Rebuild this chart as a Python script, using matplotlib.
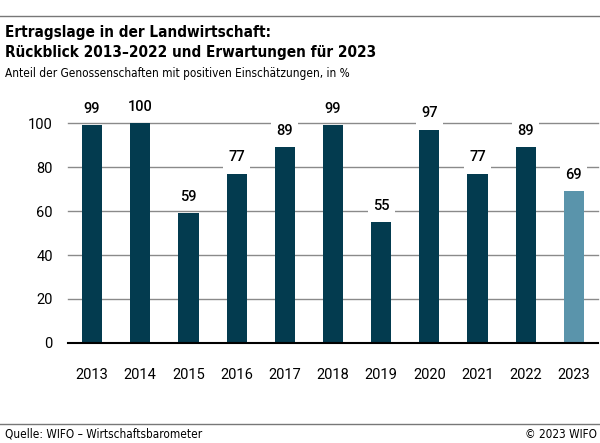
import matplotlib.pyplot as plt
from matplotlib.lines import Line2D

years = ['2013', '2014', '2015', '2016', '2017', '2018', '2019', '2020', '2021', '2022', '2023']
values = [99, 100, 59, 77, 89, 99, 55, 97, 77, 89, 69]
yticks = [0, 20, 40, 60, 80, 100]

dark = '#033b4f'
light = '#5a94ab'
colors = [dark] * 10 + [light]

cond = ['DejaVu Sans']
num = ['Roboto', 'DejaVu Sans']

W, H = 600, 443
fig = plt.figure(figsize=(W / 100, H / 100), dpi=100)

# axes in pixel coords of the reference
ax = fig.add_axes([68 / W, 1 - 343 / H, 530 / W, 220 / H])
x = list(range(len(years)))
ax.bar(x, values, width=0.42, color=colors, zorder=2)

for v in yticks[1:]:
    ax.axhline(v, color='#8a8a8a', lw=1.0, zorder=1, clip_on=False)
ax.axhline(0, color='black', lw=1.5, zorder=3, clip_on=False)

for xi, v in zip(x, values):
    ax.text(xi, v + 7.5, str(v), ha='center', va='center', fontsize=10.5,
            fontweight='medium', family=num, zorder=4,
            bbox=dict(boxstyle='square,pad=0.35', fc='white', ec='none'))

ax.set_xlim(-0.5, 10.5)
ax.set_ylim(0, 100)
ax.set_xticks(x)
ax.set_xticklabels(years, family=num, fontsize=10.5)
ax.set_yticks(yticks)
ax.set_yticklabels([str(t) for t in yticks], family=num, fontsize=10.5)
ax.tick_params(length=0, axis='x', pad=18)
ax.tick_params(length=0, axis='y', pad=11)
for s in ax.spines.values():
    s.set_visible(False)

# header and footer
fig.add_artist(Line2D([0, 1], [1 - 16 / H] * 2, color='#777777', lw=1.0))
fig.text(5 / W, 1 - 32 / H, 'Ertragslage in der Landwirtschaft:', family=cond,
         fontsize=11, fontweight='bold', fontstretch='condensed', va='center')
fig.text(5 / W, 1 - 53 / H, 'Rückblick 2013–2022 und Erwartungen für 2023', family=cond,
         fontsize=11, fontweight='bold', fontstretch='condensed', va='center')
fig.text(5 / W, 1 - 74 / H, 'Anteil der Genossenschaften mit positiven Einschätzungen, in %',
         family=cond, fontsize=8.5, fontstretch='condensed', va='center')

fig.add_artist(Line2D([0, 1], [1 - 424 / H] * 2, color='#777777', lw=1.0))
fig.text(5 / W, 1 - 434 / H, 'Quelle: WIFO – Wirtschaftsbarometer', family=cond,
         fontsize=8.5, fontstretch='condensed', va='center')
fig.text(1 - 3 / W, 1 - 434 / H, '© 2023 WIFO', family=cond, fontsize=8.5,
         fontstretch='condensed', va='center', ha='right')

fig.savefig('out.png', dpi=100)
